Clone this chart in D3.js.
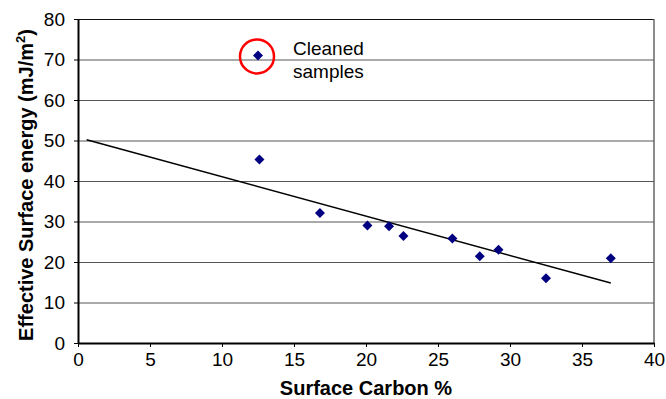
<!DOCTYPE html>
<html>
<head>
<meta charset="utf-8">
<script src="https://cdn.jsdelivr.net/npm/d3@7"></script>
<style>
  body { margin: 0; background: #fff; }
  text { font-family: "Liberation Sans", Arial, sans-serif; }
</style>
</head>
<body>
<div id="chart"></div>
<script>
// values
const carbon = [12.5, 12.6, 16.8, 20.1, 21.6, 22.6, 26.0, 27.9, 29.2, 32.5, 37.0];
const energy = [71.0, 45.3, 32.1, 29.0, 28.8, 26.4, 25.8, 21.4, 23.0, 16.0, 20.9];
const trendX = [0.6, 37.0];
const trendY = [50.2, 14.8];
const xTicks = [0, 5, 10, 15, 20, 25, 30, 35, 40];
const yTicks = [0, 10, 20, 30, 40, 50, 60, 70, 80];
const cleanedIndex = 0;

const width = 666;
const height = 399;
const margins = { top: 19, bottom: 56, left: 78, right: 12 };

const points = carbon.map((c, i) => ({ x: c, y: energy[i] }));

const xScale = d3.scaleLinear()
  .domain([0, 40])
  .range([margins.left, width - margins.right]);

const yScale = d3.scaleLinear()
  .domain([0, 80])
  .range([height - margins.bottom, margins.top]);

const svg = d3.select("#chart")
  .append("svg")
  .attr("width", width)
  .attr("height", height);

// gridlines
svg.selectAll("line.grid")
  .data(yTicks.filter(t => t > 0))
  .join("line")
  .attr("class", "grid")
  .attr("x1", xScale(0))
  .attr("x2", xScale(40))
  .attr("y1", d => yScale(d) + 0.5)
  .attr("y2", d => yScale(d) + 0.5)
  .attr("stroke", d => d === 80 ? "#111" : "#555")
  .attr("stroke-width", 1);

// right border
svg.append("line")
  .attr("x1", xScale(40))
  .attr("x2", xScale(40))
  .attr("y1", yScale(80))
  .attr("y2", yScale(0))
  .attr("stroke", "#666")
  .attr("stroke-width", 1.5);

// axes
const xAxis = svg.append("g")
  .attr("transform", `translate(0,${yScale(0)})`)
  .call(d3.axisBottom(xScale).tickValues(xTicks).tickSize(4).tickSizeOuter(0).tickPadding(6));

const yAxis = svg.append("g")
  .attr("transform", `translate(${xScale(0)},0)`)
  .call(d3.axisLeft(yScale).tickValues(yTicks).tickSize(4).tickSizeOuter(0).tickPadding(9));

[xAxis, yAxis].forEach(g => {
  g.select(".domain").attr("stroke", "#000").attr("stroke-width", 2);
  g.selectAll(".tick line").attr("stroke", "#000");
  g.selectAll(".tick text")
    .attr("fill", "#000")
    .style("font-size", "19px")
    .style("font-family", "'Liberation Sans', Arial, sans-serif");
});

// trend line
svg.append("line")
  .attr("x1", xScale(trendX[0]))
  .attr("y1", yScale(trendY[0]))
  .attr("x2", xScale(trendX[1]))
  .attr("y2", yScale(trendY[1]))
  .attr("stroke", "#000")
  .attr("stroke-width", 1.5);

// diamond markers
svg.selectAll("path.point")
  .data(points)
  .join("path")
  .attr("class", "point")
  .attr("d", d3.symbol(d3.symbolSquare, 50))
  .attr("transform", d => `translate(${xScale(d.x)},${yScale(d.y)}) rotate(45)`)
  .attr("fill", "#000080");

// red circle around the cleaned sample
svg.append("circle")
  .attr("cx", xScale(points[cleanedIndex].x) - 1)
  .attr("cy", yScale(points[cleanedIndex].y) + 1)
  .attr("r", 17)
  .attr("fill", "none")
  .attr("stroke", "#ff0000")
  .attr("stroke-width", 2.5);

// annotation
svg.append("text")
  .attr("x", 293)
  .attr("y", 55)
  .style("font-size", "19px")
  .text("Cleaned");
svg.append("text")
  .attr("x", 293)
  .attr("y", 78)
  .style("font-size", "19px")
  .text("samples");

// axis titles
svg.append("text")
  .attr("x", (xScale(0) + xScale(40)) / 2)
  .attr("y", 395)
  .attr("text-anchor", "middle")
  .style("font-size", "20px")
  .style("font-weight", "bold")
  .text("Surface Carbon %");

const yTitle = svg.append("text")
  .attr("transform", `translate(33,185) rotate(-90)`)
  .attr("text-anchor", "middle")
  .style("font-size", "20px")
  .style("font-weight", "bold");
yTitle.append("tspan").text("Effective Surface energy (mJ/m");
yTitle.append("tspan").attr("dy", -8).style("font-size", "13px").text("2");
yTitle.append("tspan").attr("dy", 8).text(")");
</script>
</body>
</html>
